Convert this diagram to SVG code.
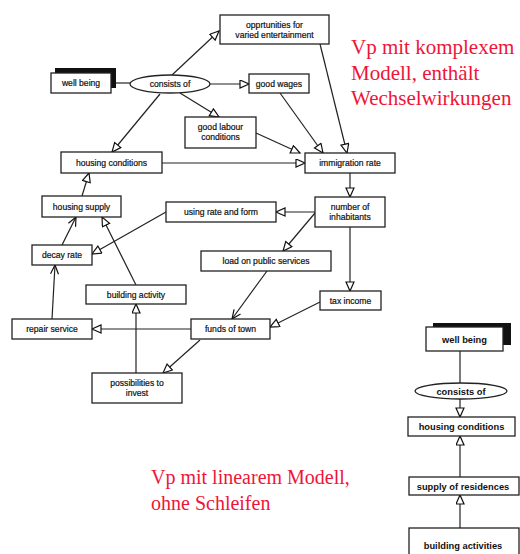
<svg xmlns="http://www.w3.org/2000/svg" width="520" height="554" viewBox="0 0 520 554">
<defs>
<marker id="tri" markerUnits="userSpaceOnUse" markerWidth="12" markerHeight="10" refX="10" refY="4.5" orient="auto">
<path d="M1,0.5 L10,4.5 L1,8.5 z" fill="#fff" stroke="#111" stroke-width="1.2"/>
</marker>
<marker id="vee" markerUnits="userSpaceOnUse" markerWidth="12" markerHeight="10" refX="10" refY="4.5" orient="auto">
<path d="M1,0.5 L10,4.5 L1,8.5" fill="none" stroke="#111" stroke-width="1.2"/>
</marker>
</defs>
<style>
.b{fill:#fff;stroke:#222;stroke-width:1.3}
.s{fill:#111}
.t{font-family:"Liberation Sans",Arial,sans-serif;font-size:8.6px;fill:#111;stroke:#111;stroke-width:0.2;text-anchor:middle}
.t2{font-family:"Liberation Sans",Arial,sans-serif;font-size:9.3px;font-weight:bold;fill:#111;text-anchor:middle}
.c line{stroke:#222;stroke-width:1.2;fill:none}
.a{marker-end:url(#tri)}
.v{marker-end:url(#vee)}
.r{font-family:"Liberation Serif","Times New Roman",serif;fill:#f01438}
</style>
<rect width="520" height="554" fill="#fff"/>

<g class="c" id="connectors">
<line x1="111" y1="83" x2="130" y2="83"/>
<line class="a" x1="172" y1="75" x2="219" y2="31"/>
<line class="a" x1="210" y1="84" x2="249" y2="84"/>
<line class="a" x1="180" y1="93" x2="219" y2="117"/>
<line class="a" x1="160" y1="94" x2="112" y2="152"/>
<line class="a" x1="162" y1="163" x2="305" y2="163"/>
<line class="a" x1="256" y1="133" x2="300" y2="153"/>
<line class="a" x1="280" y1="93" x2="323" y2="153"/>
<line class="a" x1="320" y1="44" x2="347" y2="153"/>
<line class="a" x1="350" y1="173" x2="350" y2="197"/>
<line class="a" x1="315" y1="212" x2="276" y2="212"/>
<line class="a" x1="315" y1="213" x2="283" y2="251"/>
<line class="a" x1="350" y1="227" x2="350" y2="291"/>
<line class="a" x1="320" y1="302" x2="270" y2="327"/>
<line class="v" x1="267" y1="271" x2="232" y2="319"/>
<line class="a" x1="191" y1="329" x2="92" y2="329"/>
<line class="a" x1="200" y1="340" x2="163" y2="373"/>
<line class="a" x1="136" y1="373" x2="136" y2="304"/>
<line class="a" x1="136" y1="285" x2="102" y2="217"/>
<line class="a" x1="166" y1="212" x2="92" y2="254"/>
<line class="v" x1="52" y1="319" x2="55" y2="265"/>
<line class="v" x1="62" y1="245" x2="76" y2="217"/>
<line class="a" x1="82" y1="196" x2="89" y2="173"/>
<line x1="460" y1="351" x2="460" y2="384"/>
<line class="a" x1="460" y1="399" x2="460" y2="417"/>
<line class="a" x1="460" y1="477" x2="460" y2="436"/>
<line class="a" x1="460" y1="528" x2="460" y2="495"/>
</g>

<g id="well_being"><rect class="s" x="55" y="68" width="61" height="20"/><rect class="b" x="51" y="73" width="60" height="20"/><text class="t" x="81" y="86">well being</text></g>
<g id="consists_of"><ellipse class="b" cx="170" cy="84" rx="40" ry="9"/><text class="t" x="170" y="87">consists of</text></g>
<g id="opportunities"><rect class="b" x="220" y="15" width="109" height="29"/><text class="t" x="274.5" y="28">opprtunities for</text><text class="t" x="274.5" y="38">varied entertainment</text></g>
<g id="good_wages"><rect class="b" x="249" y="74" width="60" height="19"/><text class="t" x="279" y="86.5">good wages</text></g>
<g id="good_labour"><rect class="b" x="185" y="117" width="71" height="31"/><text class="t" x="220.5" y="130">good labour</text><text class="t" x="220.5" y="140">conditions</text></g>
<g id="housing_conditions"><rect class="b" x="61" y="152" width="101" height="21"/><text class="t" x="111.5" y="165.5">housing conditions</text></g>
<g id="immigration_rate"><rect class="b" x="305" y="153" width="90" height="20"/><text class="t" x="350" y="166">immigration rate</text></g>
<g id="number_of_inhabitants"><rect class="b" x="315" y="197" width="70" height="30"/><text class="t" x="350" y="210">number of</text><text class="t" x="350" y="220">inhabitants</text></g>
<g id="using_rate"><rect class="b" x="166" y="202" width="110" height="20"/><text class="t" x="221" y="215">using rate and form</text></g>
<g id="housing_supply"><rect class="b" x="42" y="196" width="79" height="21"/><text class="t" x="81.5" y="209.5">housing supply</text></g>
<g id="decay_rate"><rect class="b" x="32" y="245" width="60" height="20"/><text class="t" x="62" y="258">decay rate</text></g>
<g id="load_public"><rect class="b" x="201" y="251" width="130" height="20"/><text class="t" x="266" y="264">load on public services</text></g>
<g id="building_activity"><rect class="b" x="86" y="285" width="100" height="19"/><text class="t" x="136" y="297.5">building activity</text></g>
<g id="tax_income"><rect class="b" x="320" y="291" width="61" height="19"/><text class="t" x="350.5" y="303.5">tax income</text></g>
<g id="repair_service"><rect class="b" x="12" y="319" width="80" height="20"/><text class="t" x="52" y="332">repair service</text></g>
<g id="funds_of_town"><rect class="b" x="191" y="319" width="79" height="20"/><text class="t" x="230.5" y="332">funds of town</text></g>
<g id="possibilities"><rect class="b" x="92" y="373" width="90" height="30"/><text class="t" x="137" y="386">possibilities to</text><text class="t" x="137" y="396">invest</text></g>

<g id="r_well_being"><rect class="s" x="433" y="323" width="78" height="22"/><rect class="b" x="426" y="327" width="77" height="24"/><text class="t2" x="464.5" y="342.5">well being</text></g>
<g id="r_consists_of"><ellipse class="b" cx="461" cy="391" rx="46" ry="8"/><text class="t2" x="461" y="394.5">consists of</text></g>
<g id="r_housing_conditions"><rect class="b" x="408" y="417" width="107" height="19"/><text class="t2" x="461.5" y="430">housing conditions</text></g>
<g id="r_supply"><rect class="b" x="409" y="477" width="110" height="18"/><text class="t2" x="463" y="489.5">supply of residences</text></g>
<g id="r_building"><rect class="b" x="409" y="528" width="110" height="30"/><text class="t2" x="463" y="549">building activities</text></g>

<g id="labels">
<text class="r" font-size="21" x="351" y="54">Vp mit komplexem</text>
<text class="r" font-size="21" x="351" y="80">Modell, enthält</text>
<text class="r" font-size="21" x="351" y="105">Wechselwirkungen</text>
<text class="r" font-size="20" x="151" y="484">Vp mit linearem Modell,</text>
<text class="r" font-size="20" x="151" y="510">ohne Schleifen</text>
</g>
</svg>
